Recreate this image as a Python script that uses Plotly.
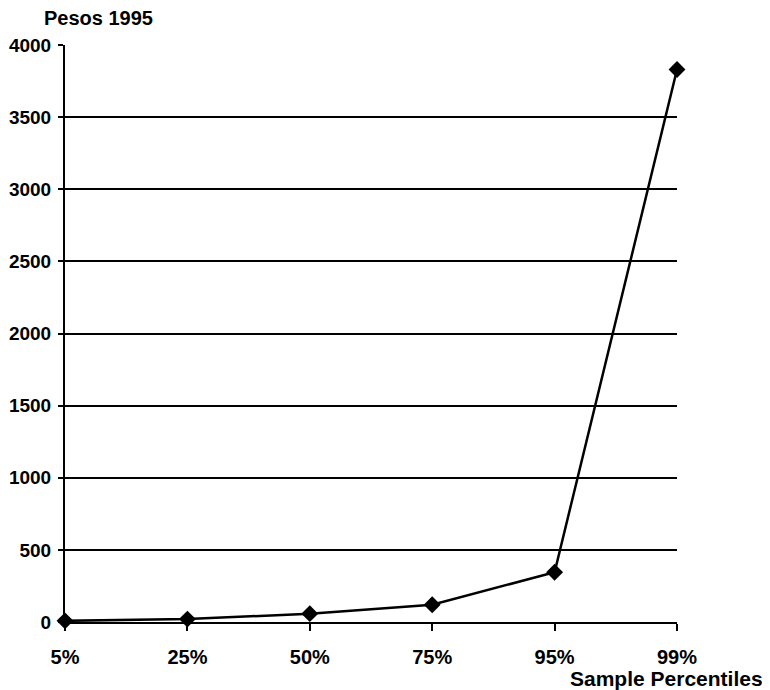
import plotly.graph_objects as go

categories = ["5%", "25%", "50%", "75%", "95%", "99%"]
pesos = [8, 20, 58, 120, 345, 3830]
y_ticks = [0, 500, 1000, 1500, 2000, 2500, 3000, 3500, 4000]

font_family = "Liberation Sans, Arial, sans-serif"

fig = go.Figure()
fig.add_trace(go.Scatter(
    x=categories, y=pesos, mode="lines+markers",
    line=dict(color="black", width=2.5),
    marker=dict(symbol="diamond", size=13, color="black"),
    cliponaxis=False, showlegend=False,
))

fig.update_layout(
    width=762, height=682,
    margin=dict(l=57, r=93, t=37, b=68),
    plot_bgcolor="white", paper_bgcolor="white",
    font=dict(family=font_family, color="black", size=20),
    xaxis=dict(
        type="category", categoryorder="array", categoryarray=categories,
        range=[0, 5], showgrid=False, zeroline=False, automargin=False,
        showline=True, linecolor="black", linewidth=2,
        ticks="outside", ticklen=7, tickwidth=2, tickcolor="black",
        ticklabelstandoff=9,
        tickfont=dict(family=font_family, size=20, color="black", weight="bold"),
    ),
    yaxis=dict(
        range=[0, 4000], tickvals=y_ticks, automargin=False,
        showgrid=True, gridcolor="black", gridwidth=2,
        zeroline=False, showline=True, linecolor="black", linewidth=2,
        ticks="outside", ticklen=5, tickwidth=2, tickcolor="black",
        ticklabelstandoff=3,
        tickfont=dict(family=font_family, size=19, color="black", weight="bold"),
    ),
    annotations=[
        dict(text="<b>Pesos 1995</b>", xref="paper", yref="paper",
             x=0, y=1.0, xshift=-23, yshift=27, xanchor="left", yanchor="middle",
             showarrow=False, font=dict(size=20, family=font_family)),
        dict(text="<b>Sample Percentiles</b>", xref="paper", yref="paper",
             x=1.0, y=0, xshift=88, yshift=-56, xanchor="right", yanchor="middle",
             showarrow=False, font=dict(size=21, family=font_family)),
    ],
)

fig.write_html("out.html")
